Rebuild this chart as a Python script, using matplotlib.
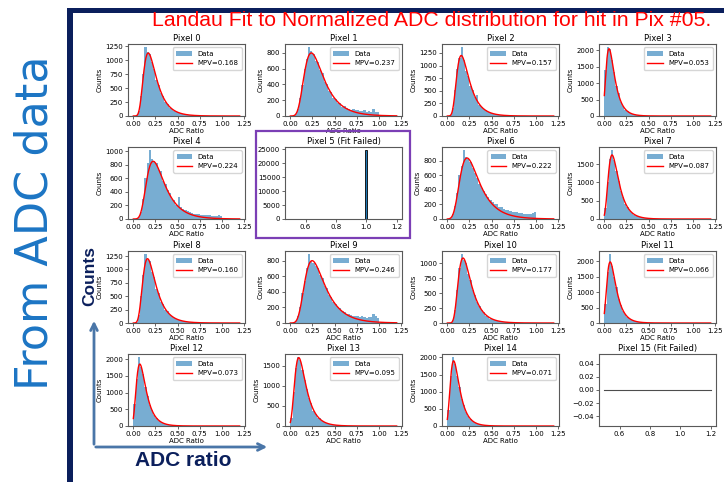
import numpy as np
import matplotlib.pyplot as plt
from matplotlib.patches import Rectangle, FancyArrowPatch
from matplotlib.ticker import MaxNLocator

# histogram counts per 0.025-wide bin, starting at 0.0
bin_width = 0.025
counts_p0 = [0, 10, 95, 360, 760, 1230, 1150, 1120, 960, 840, 650, 560, 420, 360, 250, 215, 150, 130,
             90, 80, 55, 50, 35, 30, 20, 18, 12, 10, 8, 6, 5, 4, 3, 2, 2, 1]
counts_p1 = [0, 5, 30, 95, 230, 390, 590, 720, 870, 830, 790, 700, 690, 580, 540, 430, 400, 320, 300, 230,
             220, 170, 160, 120, 125, 100, 95, 80, 85, 70, 75, 65, 60, 70, 55, 60, 50, 95, 55, 45]
counts_p2 = [0, 18, 150, 520, 930, 1150, 1360, 1120, 900, 800, 600, 520, 370, 420, 220, 180, 130, 120,
             75, 65, 45, 40, 25, 22, 15, 14, 9, 8, 6, 5, 4, 3, 2, 2, 1]
counts_p3 = [1400, 2090, 2050, 1700, 1350, 900, 700, 420, 300, 190, 150, 95, 60, 45, 30, 20, 14, 10,
             7, 5, 3, 2, 2, 1]
counts_p4 = [0, 4, 30, 110, 300, 600, 820, 1010, 880, 860, 820, 720, 700, 560, 520, 420, 380, 300,
             280, 210, 330, 170, 150, 130, 115, 100, 95, 80, 75, 70, 65, 60, 60, 55, 55, 50, 50, 45, 55, 40]
counts_p6 = [2, 12, 70, 180, 360, 600, 730, 944, 850, 820, 780, 700, 640, 570, 480, 420, 390, 340,
             300, 260, 240, 210, 200, 170, 160, 140, 130, 120, 110, 100, 95, 90, 80, 85, 75, 70, 70, 65, 80, 100]
counts_p7 = [300, 1000, 1650, 1874, 1600, 1300, 1050, 760, 600, 420, 330, 220, 175, 120, 95, 60, 50, 35,
             25, 18, 13, 10, 7, 5, 4, 3, 2, 1, 1]
counts_p8 = [0, 20, 150, 500, 900, 1280, 1180, 1150, 960, 850, 640, 560, 400, 350, 250, 215, 150, 130,
             90, 75, 50, 45, 30, 25, 18, 15, 11, 9, 7, 5, 4, 3, 2, 2, 1]
counts_p9 = [0, 5, 25, 85, 210, 380, 540, 700, 880, 800, 770, 730, 700, 610, 580, 470, 450, 360, 340, 270,
             250, 200, 190, 150, 140, 120, 110, 100, 95, 90, 85, 80, 85, 75, 70, 80, 75, 120, 90, 70]
counts_p10 = [0, 2, 45, 220, 560, 920, 1150, 1060, 1010, 830, 720, 560, 470, 350, 290, 210, 180, 125,
              105, 75, 62, 45, 37, 27, 22, 16, 13, 10, 8, 6, 5, 4, 3, 2, 1]
counts_p11 = [620, 1650, 2212, 1850, 1500, 1150, 760, 590, 380, 280, 190, 140, 90, 65, 45, 30, 21, 15,
              10, 7, 5, 3, 2, 2, 1]
counts_p12 = [650, 1400, 2048, 1750, 1550, 1150, 900, 620, 480, 320, 250, 160, 125, 80, 60, 42, 30, 21,
              15, 10, 7, 5, 4, 3, 2, 1]
counts_p13 = [200, 850, 1450, 1705, 1650, 1400, 1150, 920, 700, 560, 380, 310, 210, 200, 120, 90, 65, 48,
              35, 26, 19, 14, 10, 7, 5, 4, 3, 2, 1]
counts_p14 = [480, 1450, 2000, 1800, 1450, 1150, 800, 600, 400, 290, 200, 140, 100, 68, 47, 33, 23, 16,
              11, 8, 5, 4, 3, 2, 1]

# pixel 5: everything in one bin at 1.0 ; pixel 15: empty
p5_center = 1.0
p5_count = 24600
p5_bin = 0.014
p15_x = [0.5, 1.2]
p15_y = [0, 0]

# Landau (Moyal) fit parameters
fit_mpv = [0.168, 0.237, 0.157, 0.053, 0.224, None, 0.222, 0.087,
           0.160, 0.246, 0.177, 0.066, 0.073, 0.095, 0.071, None]
fit_width = [0.05, 0.075, 0.048, 0.033, 0.07, None, 0.075, 0.04,
             0.05, 0.078, 0.05, 0.035, 0.037, 0.043, 0.035, None]
fit_peak = [1130, 800, 1200, 2050, 850, None, 840, 1750,
            1200, 800, 1090, 1970, 1850, 1700, 1900, None]

all_counts = [counts_p0, counts_p1, counts_p2, counts_p3, counts_p4, None, counts_p6, counts_p7,
              counts_p8, counts_p9, counts_p10, counts_p11, counts_p12, counts_p13, counts_p14, None]


def landau(x, mpv, w, peak):
    lam = (x - mpv) / w
    return peak * np.exp(-0.5 * (lam + np.exp(-lam) - 1))


W, H = 724, 482
fig = plt.figure(figsize=(W / 100, H / 100), dpi=100)

col_left = [128, 285, 442, 599]
row_top = [44, 147, 251, 354]
ax_w, ax_h = 117, 72

fs = 5
for i in range(16):
    r, c = divmod(i, 4)
    ax = fig.add_axes([col_left[c] / W, 1 - (row_top[r] + ax_h) / H, ax_w / W, ax_h / H])
    for s in ax.spines.values():
        s.set_color('0.35')
        s.set_linewidth(0.8)
    ax.tick_params(labelsize=fs, length=2, width=0.6, pad=1.5, color='0.3')
    ax.yaxis.set_major_locator(MaxNLocator(nbins=6, steps=[1, 2, 2.5, 5, 10]))
    if all_counts[i] is not None:
        cnt = all_counts[i]
        edges = np.arange(len(cnt)) * bin_width
        bars = ax.bar(edges, cnt, width=bin_width, align='edge', color='#1f77b4', alpha=0.6,
                      linewidth=0)
        xf = np.linspace(0, 1.2, 400)
        line, = ax.plot(xf, landau(xf, fit_mpv[i], fit_width[i], fit_peak[i]), color='red', lw=1)
        ax.set_title(f'Pixel {i}', fontsize=6, pad=2)
        ax.set_xlabel('ADC Ratio', fontsize=fs, labelpad=1)
        ax.set_ylabel('Counts', fontsize=fs, labelpad=2)
        ax.set_xticks([0, 0.25, 0.5, 0.75, 1.0, 1.25])
        ax.legend([bars, line], ['Data', f'MPV={fit_mpv[i]:.3f}'], fontsize=fs, loc='upper right',
                  handlelength=2.2, borderpad=0.5, labelspacing=0.5)
    elif i == 5:
        ax.bar([p5_center], [p5_count], width=p5_bin, color='#1f77b4', edgecolor='black', lw=0.6)
        ax.set_xlim(0.465, 1.235)
        ax.set_title('Pixel 5 (Fit Failed)', fontsize=6, pad=2)
    else:
        ax.plot(p15_x, p15_y, color='0.3', lw=0.8)
        ax.set_title('Pixel 15 (Fit Failed)', fontsize=6, pad=2)

# slide decorations
navy = '#0b1f5c'
fig.add_artist(Rectangle((67 / W, 0), 6 / W, 1 - 8 / H, transform=fig.transFigure, color=navy, lw=0))
fig.add_artist(Rectangle((67 / W, 1 - 13 / H), 1 - 67 / W, 5 / H, transform=fig.transFigure, color=navy, lw=0))
fig.add_artist(Rectangle((256 / W, 1 - 238 / H), 154 / W, 107 / H, transform=fig.transFigure,
                         fill=False, edgecolor='#7b3fb5', lw=1.6))

fig.text(432 / W, 1 - 21 / H, 'Landau Fit to Normalized ADC distribution for hit in Pix #05.',
         color='red', fontsize=15.3, family='Liberation Sans', ha='center', va='center')
fig.text(35 / W, 1 - 223 / H, 'From ADC data', rotation=90, color='#1c75c4', fontsize=32,
         ha='center', va='center')
fig.text(90 / W, 1 - 276 / H, 'Counts', rotation=90, color=navy, fontsize=12.5, fontweight='bold',
         family='Liberation Sans', ha='center', va='center')
fig.text(183 / W, 1 - 460 / H, 'ADC ratio', color=navy, fontsize=15, fontweight='bold',
         family='Liberation Sans', ha='center', va='center')

arrow_c = '#4a76a8'
fig.add_artist(FancyArrowPatch((94 / W, 1 - 447 / H), (94 / W, 1 - 318 / H), transform=fig.transFigure,
                               arrowstyle='->', mutation_scale=12, lw=2, color=arrow_c))
fig.add_artist(FancyArrowPatch((93 / W, 1 - 447 / H), (270 / W, 1 - 447 / H), transform=fig.transFigure,
                               arrowstyle='->', mutation_scale=12, lw=2, color=arrow_c))

fig.savefig('out.png', dpi=100)
